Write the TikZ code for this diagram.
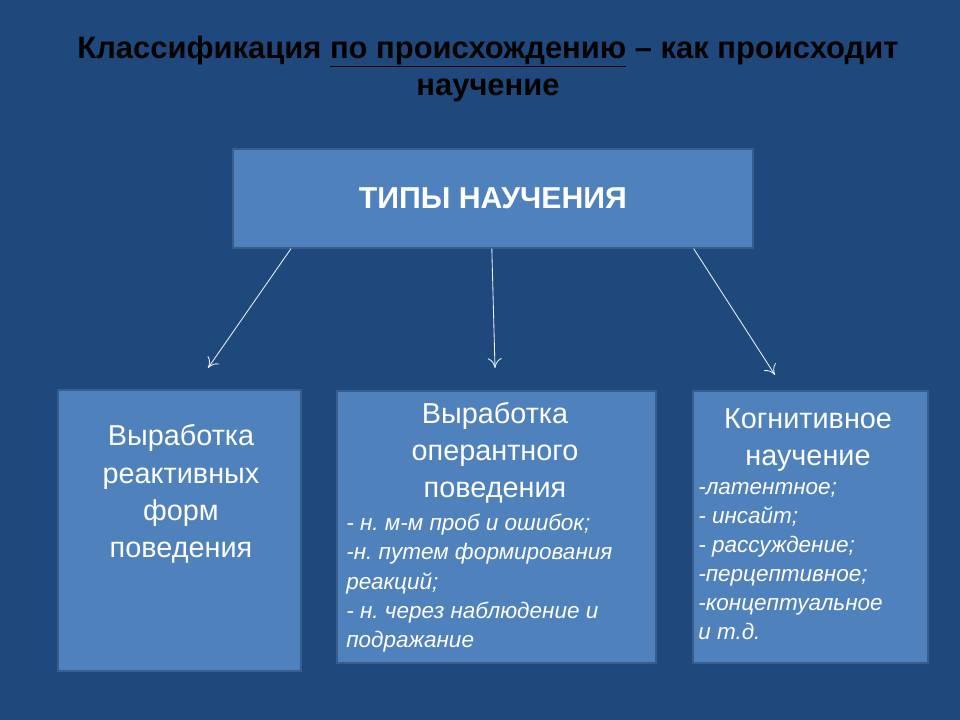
\documentclass[tikz,border=0pt]{standalone}
\usepackage{fontspec}
\setmainfont{Liberation Sans}
\usetikzlibrary{positioning,calc,arrows,arrows.meta}
\definecolor{bgblue}{RGB}{31,73,125}
\definecolor{boxblue}{RGB}{79,129,189}
\definecolor{edgeblue}{RGB}{56,93,138}
\frenchspacing

\begin{document}
\begin{tikzpicture}[x=0.025cm,y=-0.025cm]
            \tikzset{
                box/.style={draw=edgeblue, line width=1.2pt, fill=boxblue, anchor=north west, inner sep=0pt},
                head/.style={text=white, font=\fontsize{20.5}{26.5}\selectfont, align=center},
                items/.style={text=white, font=\fontsize{16}{20.7}\selectfont\itshape, align=left, anchor=north west, inner sep=0pt},
                link/.style={-{To[length=7pt,width=10pt]}, draw=white!90!boxblue, line width=0.6pt}
            }
            % Background
            \fill[bgblue] (0,0) rectangle (960,720);
            \useasboundingbox (0,0) rectangle (960,720);
            
            % Title
            \node[text=black, font=\fontsize{22}{27}\selectfont\bfseries, align=center] (title) at (488,69)
                {Классификация \underline{по происхождению} -- как происходит\\научение};
            
            % Top box
            \node[box, minimum width=520*0.025cm, minimum height=99*0.025cm] (types) at (232,148) {};
            \node[text=white, font=\fontsize{21.5}{24}\selectfont\bfseries] (typeslabel) at (types.center) {ТИПЫ НАУЧЕНИЯ};
            
            % Lower boxes
            \node[box, minimum width=243*0.025cm, minimum height=281*0.025cm] (react) at (57,389) {};
            \node[box, minimum width=319*0.025cm, minimum height=272*0.025cm] (oper) at (336,390) {};
            \node[box, minimum width=235*0.025cm, minimum height=272*0.025cm] (cogn) at (692,390) {};
            
            % Box texts
            \node[head] (reactlabel) at (181,494) {Выработка\\реактивных\\форм\\поведения};
            \node[head] (operlabel) at (495,453) {Выработка\\оперантного\\поведения};
            \node[items] (operlist) at (346,514) {- н. м-м проб и ошибок;\\-н. путем формирования\\реакций;\\- н. через наблюдение и\\подражание};
            \node[head] (cognlabel) at (808,440) {Когнитивное\\научение};
            \node[items] (cognlist) at (698,482) {-латентное;\\- инсайт;\\- рассуждение;\\-перцептивное;\\-концептуальное\\и т.д.};
            
            % Arrows
            \coordinate (aL) at (208,368);
            \coordinate (aM) at (495,368);
            \coordinate (aR) at (775,375);
            \draw[link] ($(types.south west)!0.113!(types.south east)$) -- (aL);
            \draw[link] ($(types.south west)!0.498!(types.south east)$) -- (aM);
            \draw[link] ($(types.south west)!0.885!(types.south east)$) -- (aR);
        \end{tikzpicture}
\end{document}
